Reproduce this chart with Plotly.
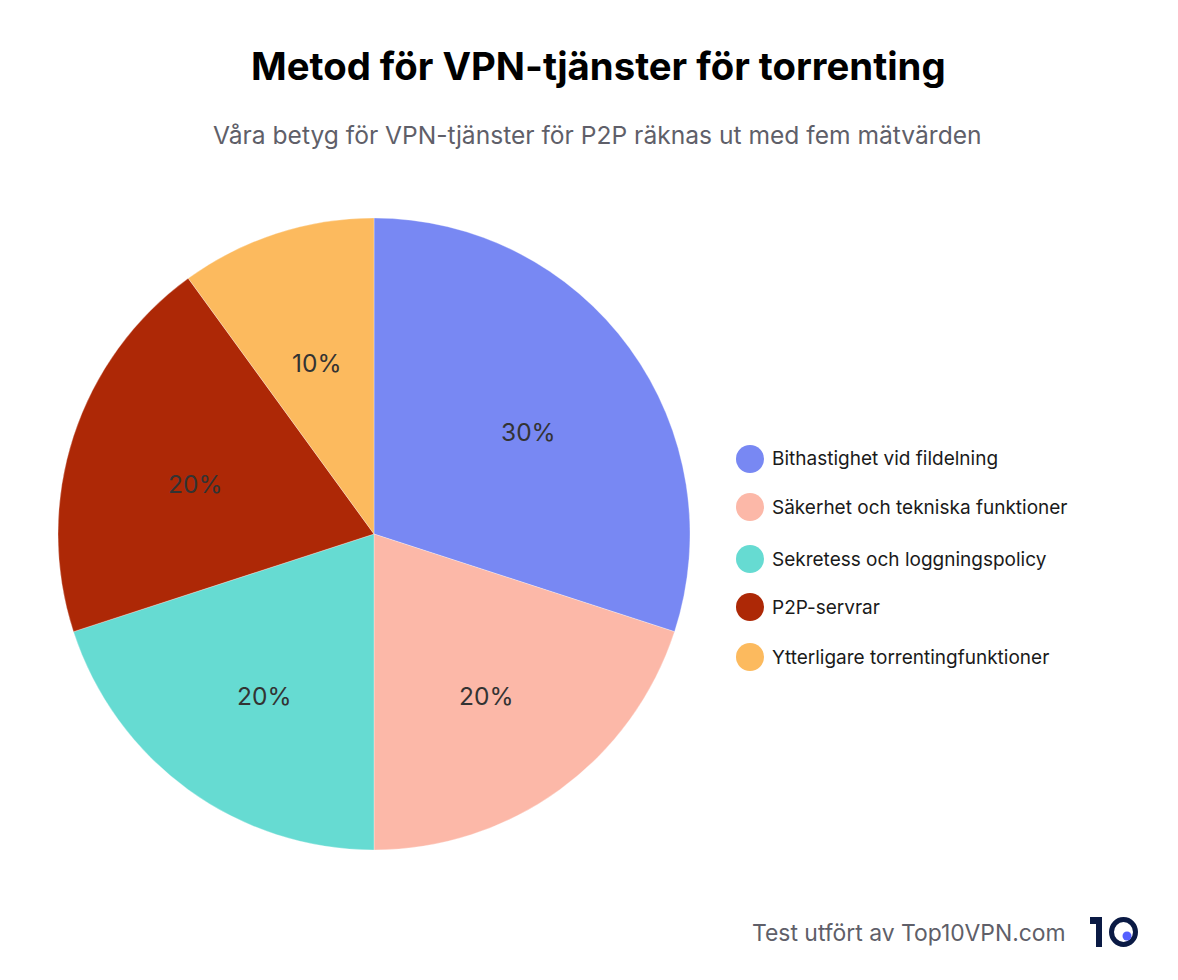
import math

import plotly.graph_objects as go

W, H = 1178, 980
FONT = "Inter"

categories = ["Bithastighet vid fildelning", "Säkerhet och tekniska funktioner",
              "Sekretess och loggningspolicy", "P2P-servrar", "Ytterligare torrentingfunktioner"]
weights = [30, 20, 20, 20, 10]
colors = ["#7888f3", "#fcb8a8", "#66dbd2", "#ad2806", "#fcba5e"]

title = "Metod för VPN-tjänster för torrenting"
subtitle = "Våra betyg för VPN-tjänster för P2P räknas ut med fem mätvärden"
credit = "Test utfört av Top10VPN.com"

legend_rows = [459, 507, 559, 607, 657]  # pixel rows, the gaps are uneven in the original
CX, CY, R = 374, 534, 316


def px(x):
    return x / W


def py(y):
    return 1 - y / H


def label(x, y, text, size, color, anchor="left", weight=400):
    fig.add_annotation(x=px(x), y=py(y), xref="paper", yref="paper", text=text, showarrow=False,
                       xanchor=anchor, yanchor="middle",
                       font=dict(family=FONT, size=size, color=color, weight=weight))


fig = go.Figure(go.Pie(labels=categories, values=weights, sort=False, direction="clockwise",
                       rotation=0, textinfo="none",
                       marker=dict(colors=colors, line=dict(color="white", width=0.3)),
                       domain=dict(x=[px(CX - R), px(CX + R)], y=[py(CY + R), py(CY - R)]),
                       showlegend=False, hoverinfo="label+percent"))

# plotly's inside text sits too far out on the small slice, so place the % labels from the values
start = 0
for v in weights:
    mid = math.radians((start + v / 2) * 3.6)
    label(CX + 1 + 0.6 * R * math.sin(mid), CY - 0.6 * R * math.cos(mid) + 9, f"{v}%", 24.5, "#333333", "center")
    start += v

label(598.5, 66, title, 38.3, "#000000", "center", 700)
label(597.5, 135, subtitle, 24.6, "#5f5f69", "center")
label(1068, 933, credit, 22.9, "#5f5f69", "right")

for name, col, row in zip(categories, colors, legend_rows):
    fig.add_shape(type="circle", xref="paper", yref="paper", x0=px(736), x1=px(764),
                  y0=py(row + 14), y1=py(row - 14), fillcolor=col, line_width=0)
    label(770, row, name, 19, "#1a1a1a")

# logo: the "1" as two rects, ring and dot
NAVY = "#0a1a44"
fig.add_shape(type="rect", xref="paper", yref="paper", x0=px(1096), x1=px(1102), y0=py(947), y1=py(917),
              fillcolor=NAVY, line_width=0)
fig.add_shape(type="rect", xref="paper", yref="paper", x0=px(1090), x1=px(1096), y0=py(924), y1=py(917),
              fillcolor=NAVY, line_width=0)
fig.add_shape(type="circle", xref="paper", yref="paper", x0=px(1111.5), x1=px(1135.5), y0=py(944.5), y1=py(919.5),
              fillcolor="rgba(0,0,0,0)", line=dict(color=NAVY, width=5))
fig.add_shape(type="circle", xref="paper", yref="paper", x0=px(1122.5), x1=px(1131.5), y0=py(940.5), y1=py(931.5),
              fillcolor="#5560ff", line_width=0)

fig.update_layout(width=W, height=H, autosize=False, margin=dict(l=0, r=0, t=0, b=0),
                  paper_bgcolor="white", font=dict(family=FONT))
fig.write_html("out.html", post_script="document.body.style.margin='0';", config=dict(displayModeBar=False))
